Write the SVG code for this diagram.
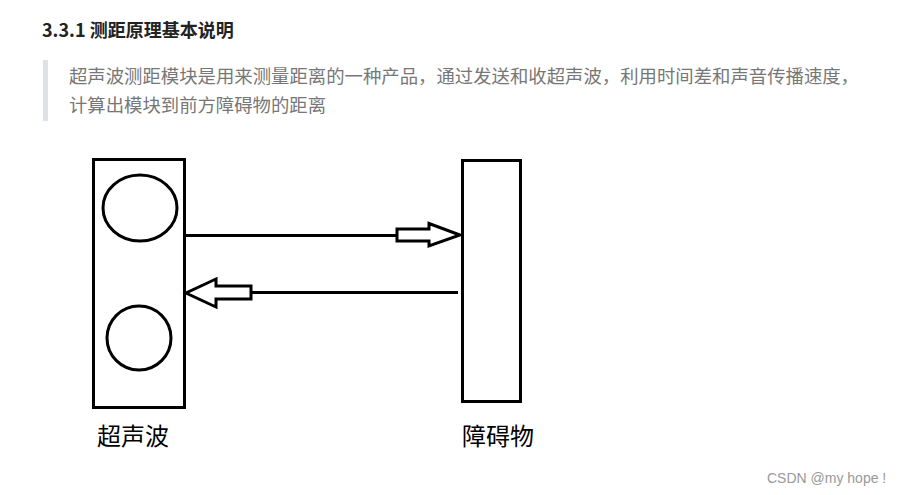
<svg xmlns="http://www.w3.org/2000/svg" width="901" height="495" viewBox="0 0 901 495">
<style>
.t{font-family:"Noto Sans CJK SC","Noto Sans",sans-serif}
.sh{fill:none;stroke:#000;stroke-width:3}
.ar{fill:#fff;stroke:#000;stroke-width:3;stroke-linejoin:miter}
</style>
<rect width="901" height="495" fill="#fff"/>
<text class="t" x="42" y="37" font-size="18" font-weight="bold" fill="#222">3.3.1 测距原理基本说明</text>
<rect x="43" y="60" width="5" height="61" fill="#dfe2e5"/>
<text class="t" x="69" y="83" font-size="18" fill="#777" textLength="790" lengthAdjust="spacingAndGlyphs">超声波测距模块是用来测量距离的一种产品，通过发送和收超声波，利用时间差和声音传播速度，</text>
<text class="t" x="69" y="112" font-size="18" fill="#777" textLength="257" lengthAdjust="spacingAndGlyphs">计算出模块到前方障碍物的距离</text>
<g id="sensor">
<rect class="sh" x="93.5" y="159.5" width="91" height="248"/>
<ellipse class="sh" cx="140" cy="208" rx="37" ry="33"/>
<ellipse class="sh" cx="139" cy="338" rx="32" ry="32"/>
<text class="t" x="97" y="445" font-size="24" fill="#000">超声波</text>
</g>
<g id="obstacle">
<rect class="sh" x="462.5" y="160.5" width="58" height="241"/>
<text class="t" x="462" y="445" font-size="24" fill="#000">障碍物</text>
</g>
<g id="connectors">
<line class="sh" x1="185" y1="235.5" x2="397" y2="235.5"/>
<polygon class="ar" points="397,229 429,229 429,223.5 460,235 429,246 429,241 397,241"/>
<line class="sh" x1="240" y1="292.5" x2="458" y2="292.5"/>
<polygon class="ar" points="251,286 216,286 216,279 186,293 216,307 216,299 251,299"/>
</g>
<text x="767" y="483" font-family="Liberation Sans, Arial, sans-serif" font-size="14" fill="#999">CSDN @my hope !</text>
</svg>
